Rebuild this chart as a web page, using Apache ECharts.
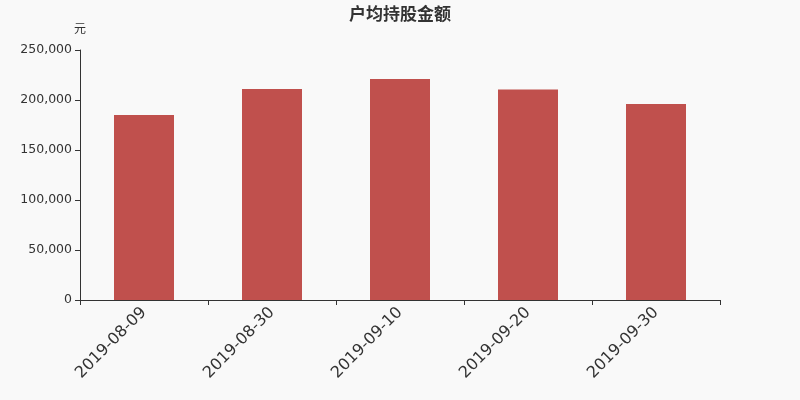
<!DOCTYPE html>
<html>
<head>
<meta charset="utf-8">
<script src="https://cdn.jsdelivr.net/npm/echarts@6/dist/echarts.min.js"></script>
<style>
html, body { margin: 0; padding: 0; background: #f9f9f9; }
#main { width: 800px; height: 400px; }
</style>
</head>
<body>
<div id="main"></div>
<script>
var dates = ['2019-08-09', '2019-08-30', '2019-09-10', '2019-09-20', '2019-09-30'];
var amounts = [185000, 211000, 221000, 210500, 196000];

var chart = echarts.init(document.getElementById('main'));
chart.setOption({
    backgroundColor: '#f9f9f9',
    title: {
        text: '户均持股金额',
        left: 'center',
        top: 0,
        textStyle: { fontSize: 17, fontWeight: 'bold', color: '#333', fontFamily: 'Noto Sans CJK SC' }
    },
    grid: { left: 80, right: 80, top: 50, bottom: 100 },
    xAxis: {
        type: 'category',
        data: dates,
        axisLine: { lineStyle: { color: '#333' } },
        axisTick: { show: true, alignWithLabel: false, length: 5, lineStyle: { color: '#333' } },
        axisLabel: { rotate: 45, fontSize: 16, color: '#333', fontFamily: 'DejaVu Sans', margin: 10 }
    },
    yAxis: {
        type: 'value',
        name: '元',
        nameGap: 16,
        nameTextStyle: { color: '#333', fontSize: 12, align: 'center', fontFamily: 'Noto Sans CJK SC' },
        min: 0,
        max: 250000,
        interval: 50000,
        axisLine: { show: true, lineStyle: { color: '#333' } },
        axisTick: { show: true, length: 5, lineStyle: { color: '#333' } },
        splitLine: { show: false },
        axisLabel: {
            color: '#333',
            fontSize: 12.5,
            fontFamily: 'DejaVu Sans',
            formatter: function (v) { return v.toLocaleString('en-US'); }
        }
    },
    series: [{
        type: 'bar',
        data: amounts,
        barWidth: 60,
        itemStyle: { color: '#c0504d' }
    }]
});
</script>
</body>
</html>
